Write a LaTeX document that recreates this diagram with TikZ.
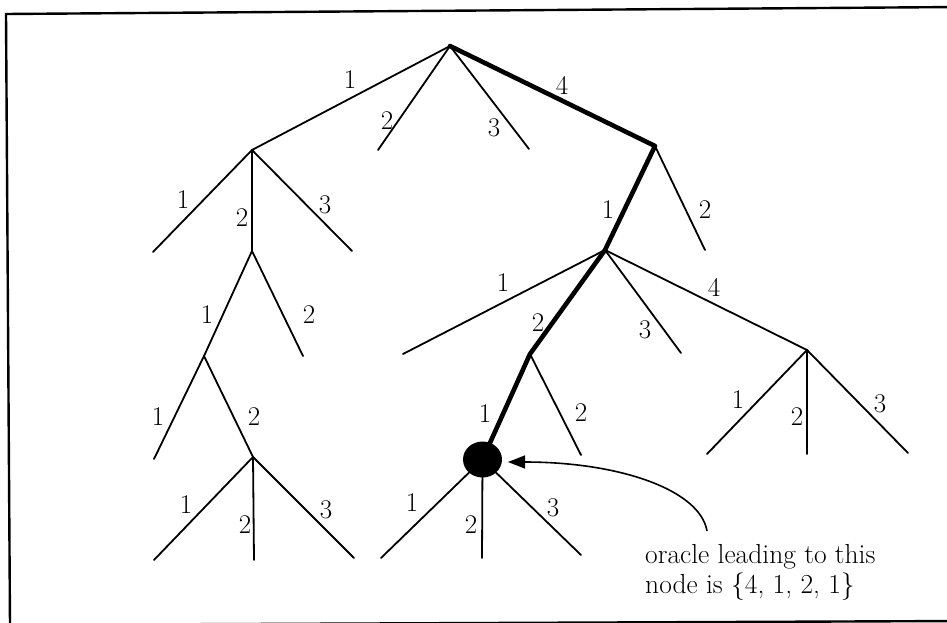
\documentclass[tikz,border=0pt]{standalone}
\usetikzlibrary{arrows.meta,shapes.geometric}
\begin{document}
\begin{tikzpicture}[x=1pt,y=-1pt,
  edge/.style={line width=1.8pt,line cap=round},
  pathedge/.style={line width=4.6pt,line join=round,line cap=round},
  lab/.style={inner sep=0pt,font=\fontsize{27}{30}\selectfont},
  txt/.style={inner sep=0pt,anchor=base west,font=\fontsize{27.5}{30}\selectfont}]
\useasboundingbox (0,0) rectangle (947,623);
\clip (0,0) rectangle (947,623);
% frame (scanned, slightly tilted)
\draw[line width=2.4pt] (6,14) -- (960,7) -- (960,621) -- (10,625) -- cycle;
% tree points
\coordinate (R) at (450,46);
\coordinate (A) at (252,150);
\coordinate (R2) at (378,150);
\coordinate (R3) at (529,149);
\coordinate (B) at (655,146);
\coordinate (A1) at (153,252);
\coordinate (C) at (252,251);
\coordinate (A3) at (352,251);
\coordinate (B2) at (705,250);
\coordinate (F) at (605,250);
\coordinate (D) at (204,356);
\coordinate (C2) at (303,356);
\coordinate (F1) at (403,354);
\coordinate (G) at (530,354);
\coordinate (F3) at (681,353);
\coordinate (H) at (807,350);
\coordinate (D1) at (154,459);
\coordinate (E) at (253,457);
\coordinate (G2) at (581,455);
\coordinate (H1) at (707,454);
\coordinate (H2) at (807,454);
\coordinate (H3) at (908,453);
\coordinate (E1) at (154,560);
\coordinate (E2) at (254,560);
\coordinate (E3) at (354,558);
\coordinate (K1) at (381,558);
\coordinate (K2) at (482,558);
\coordinate (K3) at (581,555);
% thin edges
\draw[edge] (R) -- (A);
\draw[edge] (R) -- (R2);
\draw[edge] (R) -- (R3);
\draw[edge] (A) -- (A1);
\draw[edge] (A) -- (C);
\draw[edge] (A) -- (A3);
\draw[edge] (B) -- (B2);
\draw[edge] (C) -- (D);
\draw[edge] (C) -- (C2);
\draw[edge] (F) -- (F1);
\draw[edge] (F) -- (F3);
\draw[edge] (F) -- (H);
\draw[edge] (D) -- (D1);
\draw[edge] (D) -- (E);
\draw[edge] (G) -- (G2);
\draw[edge] (H) -- (H1);
\draw[edge] (H) -- (H2);
\draw[edge] (H) -- (H3);
\draw[edge] (E) -- (E1);
\draw[edge] (E) -- (E2);
\draw[edge] (E) -- (E3);
% oracle node
\node[ellipse,fill=black,minimum width=39pt,minimum height=36pt,inner sep=0pt] (K) at (482.5,459.5) {};
\draw[edge] (K.center) -- (K1);
\draw[edge] (K.center) -- (K2);
\draw[edge] (K.center) -- (K3);
% oracle path
\draw[pathedge] (R) -- (B) -- (F) -- (G) -- (K.center);
% labels
\node[lab] (lR1) at (350,80) {1};
\node[lab] (lR2) at (387,121) {2};
\node[lab] (lR3) at (494,128) {3};
\node[lab] (lR4) at (562,85) {4};
\node[lab] (lA1) at (183,200) {1};
\node[lab] (lA2) at (242,218) {2};
\node[lab] (lA3) at (325,205) {3};
\node[lab] (lB1) at (608,210) {1};
\node[lab] (lB2) at (705,210) {2};
\node[lab] (lC1) at (207,315) {1};
\node[lab] (lC2) at (309,315) {2};
\node[lab] (lF1) at (503,283) {1};
\node[lab] (lF2) at (538,323) {2};
\node[lab] (lF3) at (645,330) {3};
\node[lab] (lF4) at (714,287) {4};
\node[lab] (lD1) at (158,417) {1};
\node[lab] (lD2) at (254,417) {2};
\node[lab] (lG1) at (485,414) {1};
\node[lab] (lG2) at (581,413) {2};
\node[lab] (lH1) at (738,400) {1};
\node[lab] (lH2) at (797,417) {2};
\node[lab] (lH3) at (880,404) {3};
\node[lab] (lE1) at (186,505) {1};
\node[lab] (lE2) at (245,525) {2};
\node[lab] (lE3) at (326,510) {3};
\node[lab] (lK1) at (412,503) {1};
\node[lab] (lK2) at (471,525) {2};
\node[lab] (lK3) at (553,508) {3};
% annotation
\node[txt] (t1) at (645,563) {oracle leading to this};
\node[txt] (t2) at (645,593) {node is \{4, 1, 2, 1\}};
\coordinate (arrstart) at (707,531);
\coordinate (arrtip) at (508,462);
\draw[line width=1.6pt,-{Triangle[length=17pt,width=13pt]}] (arrstart) .. controls (700,490) and (620,462) .. (arrtip);
\end{tikzpicture}
\end{document}
